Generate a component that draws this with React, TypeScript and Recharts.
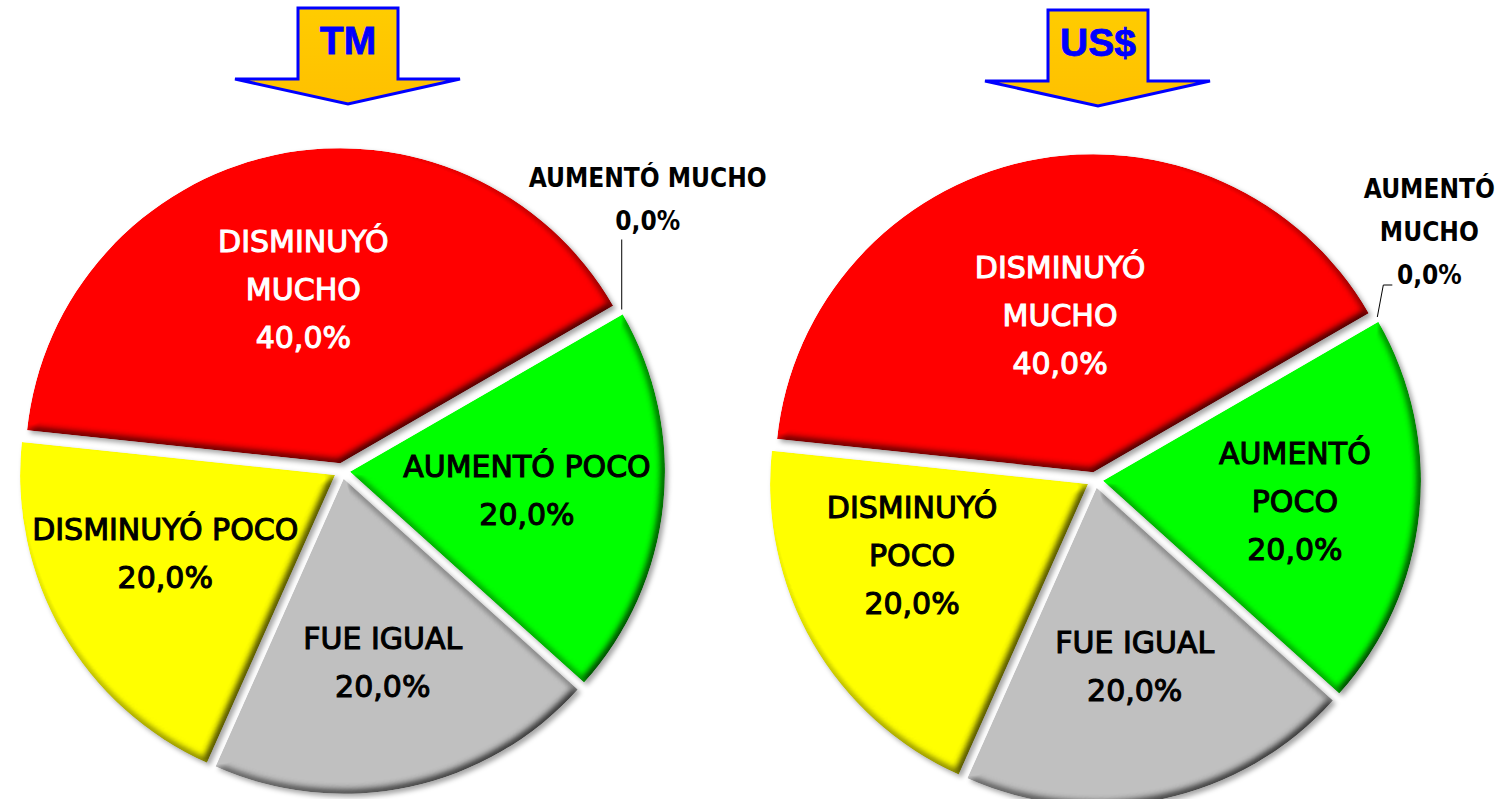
import React from 'react';
import { PieChart, Pie, Cell, Sector } from 'recharts';

// ---------- data ----------
const categories = ['AUMENTÓ MUCHO', 'AUMENTÓ POCO', 'FUE IGUAL', 'DISMINUYÓ POCO', 'DISMINUYÓ MUCHO'];
const tmValues = [0, 20, 20, 20, 40];
const usdValues = [0, 20, 20, 20, 40];
const sliceColors = ['#0070C0', '#00FF00', '#C0C0C0', '#FFFF00', '#FF0000'];
const labelColors = ['#000000', '#000000', '#000000', '#000000', '#FFFFFF'];
const tmLabelLines = [['AUMENTÓ MUCHO'], ['AUMENTÓ POCO'], ['FUE IGUAL'], ['DISMINUYÓ POCO'], ['DISMINUYÓ', 'MUCHO']];
const usdLabelLines = [['AUMENTÓ', 'MUCHO'], ['AUMENTÓ', 'POCO'], ['FUE IGUAL'], ['DISMINUYÓ', 'POCO'], ['DISMINUYÓ', 'MUCHO']];
const titles = ['TM', 'US$'];

// ---------- layout / style ----------
const W = 1506;
const H = 799;
const EXPLODE = 8;
const RAD = Math.PI / 180;
const FONT_IN = '"DejaVu Sans", sans-serif';
const FONT_OUT = '"DejaVu Sans Condensed", "DejaVu Sans", sans-serif';
const LINE = 48;

const polar = (cx: number, cy: number, r: number, a: number) => ({
  x: cx + Math.cos(-a * RAD) * r,
  y: cy + Math.sin(-a * RAD) * r,
});

const fmtPct = (v: number) => v.toFixed(1).replace('.', ',') + '%';

type ChartCfg = {
  left: number;
  width: number;
  cx: number;
  cy: number;
  r: number;
  values: number[];
  lines: string[][];
  labelR: number[];
  labelA: number[];
  filterId: string;
  zero: { path: [number, number][]; tx: number; ty: number };
};

const charts: ChartCfg[] = [
  {
    left: 0,
    width: 800,
    cx: 342,
    cy: 471,
    r: 315,
    values: tmValues,
    lines: tmLabelLines,
    labelR: [0, 178, 188, 187, 178],
    labelA: [0, 0, 0, -5, 0],
    filterId: 'bevelL',
    zero: { path: [[0, 0], [0, -70]], tx: 26, ty: -110 },
  },
  {
    left: 753,
    width: 753,
    cx: 342,
    cy: 480,
    r: 318,
    values: usdValues,
    lines: usdLabelLines,
    labelR: [0, 193, 183, 190, 160],
    labelA: [0, 0, 0, -7.5, 0],
    filterId: 'bevelR',
    zero: { path: [[0, 0], [6, -32], [15, -32]], tx: 52, ty: -85 },
  },
];

const makeShape = (filterId: string) => (props: any) => {
  const { cx, cy, midAngle, innerRadius, outerRadius, startAngle, endAngle, fill } = props;
  if (Math.abs(endAngle - startAngle) < 0.01) return <g />;
  const c = polar(cx, cy, EXPLODE, midAngle);
  return (
    <g filter={`url(#${filterId})`}>
      <Sector
        cx={c.x}
        cy={c.y}
        innerRadius={innerRadius}
        outerRadius={outerRadius}
        startAngle={startAngle}
        endAngle={endAngle}
        fill={fill}
        stroke="none"
      />
    </g>
  );
};

const makeLabel = (cfg: ChartCfg) => (props: any) => {
  const { cx, cy, midAngle, outerRadius, index } = props;
  const value = cfg.values[index];
  const textLines = [...cfg.lines[index], fmtPct(value)];
  const n = textLines.length;
  if (value === 0) {
    const s = polar(cx, cy, outerRadius + EXPLODE, midAngle);
    const pts = cfg.zero.path.map(([dx, dy]) => `${s.x + dx},${s.y + dy}`).join(' ');
    return (
      <g key={`zl-${index}`}>
        <polyline points={pts} fill="none" stroke="#000" strokeWidth={1} />
        {textLines.map((t, i) => (
          <text
            key={i}
            x={s.x + cfg.zero.tx}
            y={s.y + cfg.zero.ty + (i - (n - 1) / 2) * 43}
            textAnchor="middle"
            dominantBaseline="central"
            fontFamily={FONT_OUT}
            fontWeight="bold"
            fontSize={26}
            fill="#000"
          >
            {t}
          </text>
        ))}
      </g>
    );
  }
  const p = polar(cx, cy, EXPLODE + cfg.labelR[index], midAngle + cfg.labelA[index]);
  const col = labelColors[index];
  return (
    <g key={`l-${index}`}>
      {textLines.map((t, i) => (
        <text
          key={i}
          x={p.x}
          y={p.y + (i - (n - 1) / 2) * LINE}
          textAnchor="middle"
          dominantBaseline="central"
          fontFamily={FONT_IN}
          fontWeight="normal"
          fontSize={30}
          fill={col}
          stroke={col}
          strokeWidth={1.1}
        >
          {t}
        </text>
      ))}
    </g>
  );
};

const BevelFilter = ({ id }: { id: string }) => (
  <filter id={id} x="-10%" y="-10%" width="125%" height="125%" colorInterpolationFilters="sRGB">
    <feGaussianBlur in="SourceAlpha" stdDeviation="4" result="blur" />
    <feDiffuseLighting in="blur" surfaceScale="5" diffuseConstant="1.155" lightingColor="#ffffff" result="diff">
      <feDistantLight azimuth="225" elevation="60" />
    </feDiffuseLighting>
    <feComposite in="SourceGraphic" in2="diff" operator="arithmetic" k1="1" k2="0" k3="0" k4="0" result="shaded" />
    <feComposite in="shaded" in2="SourceAlpha" operator="in" result="clipped" />
    <feGaussianBlur in="SourceAlpha" stdDeviation="2.5" result="sb" />
    <feOffset in="sb" dx="3" dy="3" result="so" />
    <feFlood floodColor="#000000" floodOpacity="0.35" result="fl" />
    <feComposite in="fl" in2="so" operator="in" result="shadow" />
    <feMerge>
      <feMergeNode in="shadow" />
      <feMergeNode in="clipped" />
    </feMerge>
  </filter>
);

const Arrow = ({ x, y, label }: { x: number; y: number; label: string }) => {
  // x = centre of the arrow, y = top of the shaft
  const pts = [
    [x - 50, y],
    [x + 50, y],
    [x + 50, y + 71],
    [x + 112, y + 71],
    [x, y + 96],
    [x - 113, y + 71],
    [x - 50, y + 71],
  ]
    .map((p) => p.join(','))
    .join(' ');
  return (
    <g>
      <polygon points={pts} fill="url(#arrowFill)" stroke="#0000FF" strokeWidth={3} strokeLinejoin="miter" />
      <text
        x={x}
        y={y + 32}
        textAnchor="middle"
        dominantBaseline="central"
        fontFamily='"Liberation Sans", Arial, sans-serif'
        fontWeight="bold"
        fontSize={39}
        fill="#0000FF"
        stroke="#0000FF"
        strokeWidth={0.8}
      >
        {label}
      </text>
    </g>
  );
};

export default function App() {
  return (
    <div style={{ position: 'absolute', left: 0, top: 0, width: W, height: H, background: '#fff', overflow: 'hidden' }}>
      <svg width={0} height={0} style={{ position: 'absolute' }}>
        <defs>
          <BevelFilter id="bevelL" />
          <BevelFilter id="bevelR" />
          <linearGradient id="arrowFill" x1="0" y1="0" x2="0" y2="1">
            <stop offset="0%" stopColor="#FFCC00" />
            <stop offset="100%" stopColor="#FFC000" />
          </linearGradient>
        </defs>
      </svg>
      {charts.map((cfg, ci) => {
        const data = categories.map((name, i) => ({ name, value: cfg.values[i] }));
        return (
          <div key={ci} style={{ position: 'absolute', left: cfg.left, top: 0 }}>
            <PieChart width={cfg.width} height={H} margin={{ top: 0, right: 0, bottom: 0, left: 0 }}>
              <Pie
                data={data}
                dataKey="value"
                nameKey="name"
                cx={cfg.cx}
                cy={cfg.cy}
                innerRadius={0}
                outerRadius={cfg.r}
                startAngle={30}
                endAngle={-330}
                stroke="none"
                isAnimationActive={false}
                shape={makeShape(cfg.filterId)}
                label={makeLabel(cfg)}
                labelLine={false}
              >
                {data.map((d, i) => (
                  <Cell key={d.name} fill={sliceColors[i]} />
                ))}
              </Pie>
            </PieChart>
          </div>
        );
      })}
      <svg width={W} height={130} style={{ position: 'absolute', left: 0, top: 0 }}>
        <Arrow x={348} y={8} label={titles[0]} />
        <Arrow x={1098} y={10} label={titles[1]} />
      </svg>
    </div>
  );
}
